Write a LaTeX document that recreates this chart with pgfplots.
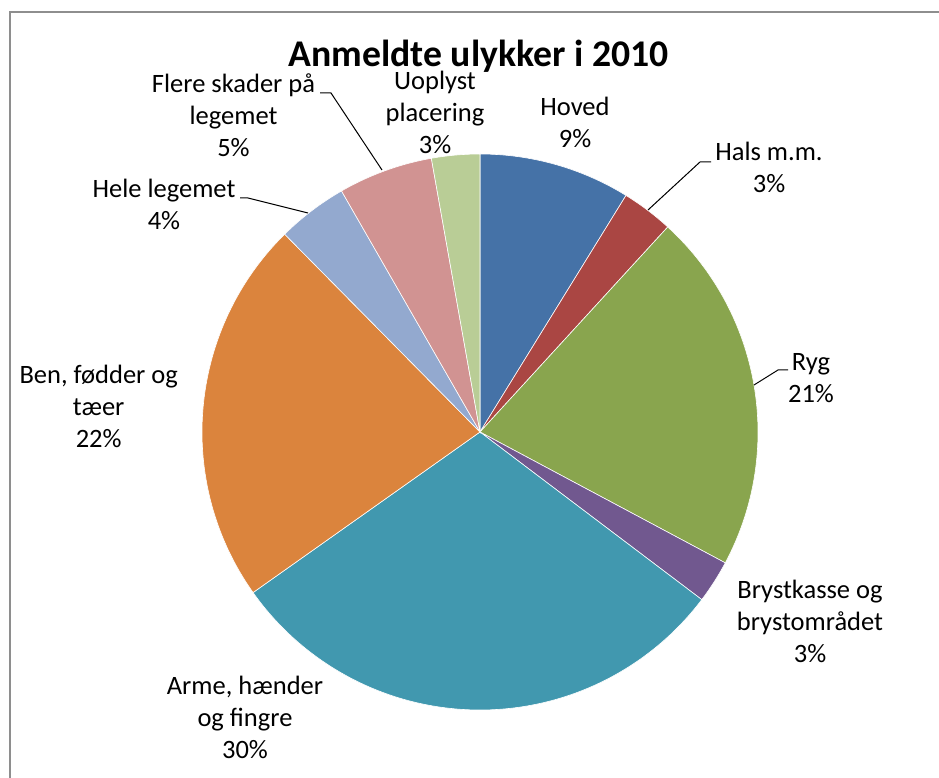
\documentclass[border=0pt]{standalone}
\usepackage{pgfplots}
\pgfplotsset{compat=1.18}
\usepackage{fontspec}
\setmainfont{Carlito}
\definecolor{cHoved}{HTML}{4572A7}
\definecolor{cHals}{HTML}{AA4643}
\definecolor{cRyg}{HTML}{89A54E}
\definecolor{cBryst}{HTML}{71588F}
\definecolor{cArme}{HTML}{4198AF}
\definecolor{cBen}{HTML}{DB843D}
\definecolor{cHele}{HTML}{93A9CF}
\definecolor{cFlere}{HTML}{D19392}
\definecolor{cUoplyst}{HTML}{B9CD96}
\definecolor{frame}{HTML}{8E8E8E}
\tikzset{lab/.style={anchor=base, align=center, font=\fontsize{13.25}{16}\selectfont, inner sep=0pt}}
% slice: #1 cumulative share before the slice (%), #2 share (%), #3 colour
\newcommand{\slice}[3]{%
  \fill[#3, draw=white, line width=0.3pt] (axis cs:480,346) -- ++({90-3.6*#1}:139pt)
    arc[start angle={90-3.6*#1}, delta angle={-3.6*#2}, radius=139pt] -- cycle;}
\begin{document}
\begin{tikzpicture}
\useasboundingbox (0,0) rectangle (469.5pt,389pt);
\begin{axis}[
  at={(0,0)}, anchor=south west,
  scale only axis, width=469.5pt, height=389pt,
  xmin=0, xmax=939, ymin=0, ymax=778,
  hide axis, clip=false,
]
\slice{0}{8.8}{cHoved}
\slice{8.8}{3.0}{cHals}
\slice{11.8}{21.0}{cRyg}
\slice{32.8}{2.5}{cBryst}
\slice{35.3}{29.9}{cArme}
\slice{65.2}{22.4}{cBen}
\slice{87.6}{4.1}{cHele}
\slice{91.7}{5.5}{cFlere}
\slice{97.2}{2.8}{cUoplyst}

\draw[frame, line width=1pt] (axis cs:939,766) -- (axis cs:9.5,766) -- (axis cs:9.5,0);

\node[anchor=base, inner sep=0pt, font=\fontsize{18.85}{22}\selectfont\bfseries] at (axis cs:478.5,711) {Anmeldte ulykker i 2010};

\node[lab] at (axis cs:233.5,621) {Flere skader på\\legemet\\5\%};
\node[lab] at (axis cs:435,624) {Uoplyst\\placering\\3\%};
\node[lab] at (axis cs:575,630) {Hoved\\9\%};
\node[lab] at (axis cs:769,585) {Hals m.m.\\3\%};
\node[lab] at (axis cs:164,548) {Hele legemet\\4\%};
\node[lab] at (axis cs:811,375) {Ryg\\21\%};
\node[lab] at (axis cs:98.7,330) {Ben, fødder og\\tæer\\22\%};
\node[lab] at (axis cs:810,115) {Brystkasse og\\brystområdet\\3\%};
\node[lab] at (axis cs:245,19) {Arme, hænder\\og fingre\\30\%};

\draw[black, line width=0.5pt] (axis cs:320,685) -- (axis cs:331,685) -- (axis cs:382,608);
\draw[black, line width=0.5pt] (axis cs:711,616) -- (axis cs:700,616) -- (axis cs:648,568);
\draw[black, line width=0.5pt] (axis cs:788,408) -- (axis cs:778,408) -- (axis cs:754,393);
\draw[black, line width=0.5pt] (axis cs:240,580) -- (axis cs:248,580) -- (axis cs:308,565);
\end{axis}
\end{tikzpicture}
\end{document}
